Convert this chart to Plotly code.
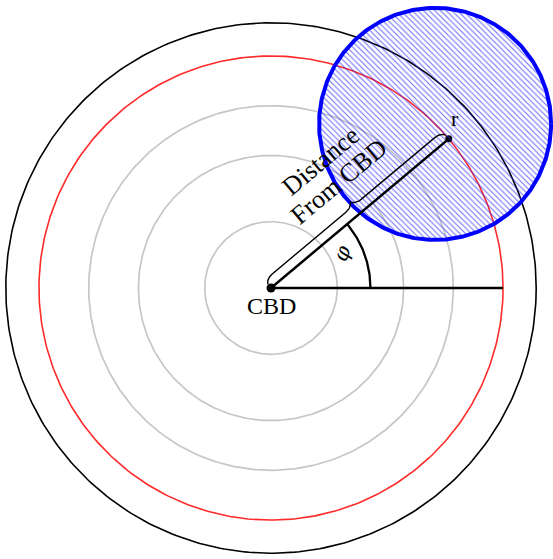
import numpy as np
import plotly.graph_objects as go

# ---- data (diagram units) ----
ring_radii = [2.0, 4.0, 5.5]          # grey reference rings
red_radius = 7.0                      # red ring
outer_radius = 8.0                    # black outer ring
zone_center = (7.0, 45.0)             # polar (radius, degrees) of hatched zone centre
zone_radius = 3.5
point_r = (7.0, 40.0)                 # polar position of point r
arc_radius = 3.0                      # angle marker radius
brace_raise, brace_amp = 0.15, 0.30
label_cbd = "CBD"
label_r = "r"
label_phi = "φ"
label_dist = ["Distance", "From CBD"]

# ---- page mapping ----
W, H = 553, 559
U = 33.15           # px per unit
CX, CY = 271, 288   # centre in px


def pol(r, deg):
    a = np.deg2rad(deg)
    return r * np.cos(a), r * np.sin(a)


def circle(cx, cy, r, n=400):
    t = np.linspace(0, 2 * np.pi, n)
    return cx + r * np.cos(t), cy + r * np.sin(t)


def bez(p0, p1, p2, p3, n=30):
    t = np.linspace(0, 1, n)[:, None]
    p0, p1, p2, p3 = map(np.array, (p0, p1, p2, p3))
    return ((1 - t) ** 3) * p0 + 3 * ((1 - t) ** 2) * t * p1 + 3 * (1 - t) * t * t * p2 + t ** 3 * p3


fig = go.Figure()

# grey rings
for r in ring_radii:
    x, y = circle(0, 0, r)
    fig.add_trace(go.Scatter(x=x, y=y, mode="lines", line=dict(color="#c6c6c6", width=1.7), hoverinfo="skip"))

# red ring
x, y = circle(0, 0, red_radius)
fig.add_trace(go.Scatter(x=x, y=y, mode="lines", line=dict(color="#ff2a2a", width=1.6), hoverinfo="skip"))

# outer ring
x, y = circle(0, 0, outer_radius)
fig.add_trace(go.Scatter(x=x, y=y, mode="lines", line=dict(color="black", width=1.6), hoverinfo="skip"))

# point r dot (under hatch)
px_, py_ = pol(*point_r)
fig.add_trace(go.Scatter(x=[px_], y=[py_], mode="markers",
                         marker=dict(color="black", size=7), hoverinfo="skip"))

# hatched zone
zx, zy = pol(*zone_center)
x, y = circle(zx, zy, zone_radius)
fig.add_trace(go.Scatter(x=x, y=y, mode="lines", fill="toself",
                         fillcolor="rgba(0,0,0,0)",
                         fillpattern=dict(shape="\\", size=4, solidity=0.25,
                                          fgcolor="rgba(40,40,255,0.7)",
                                          bgcolor="rgba(0,0,0,0)", fillmode="replace"),
                         line=dict(color="#0000ff", width=4), hoverinfo="skip"))

# horizontal reference line
fig.add_trace(go.Scatter(x=[0, red_radius], y=[0, 0], mode="lines",
                         line=dict(color="black", width=2.3), hoverinfo="skip"))
# radius line to r
fig.add_trace(go.Scatter(x=[0, px_], y=[0, py_], mode="lines",
                         line=dict(color="black", width=2.5), hoverinfo="skip"))

# angle arc
t = np.linspace(0, np.deg2rad(point_r[1]), 60)
fig.add_trace(go.Scatter(x=arc_radius * np.cos(t), y=arc_radius * np.sin(t), mode="lines",
                         line=dict(color="black", width=2.3), hoverinfo="skip"))

# brace along the radius line
L = point_r[0]
a = brace_amp
pieces = [
    bez((0, 0), (.15 * a, .3 * a), (.5 * a, .5 * a), (a, .5 * a)),
    bez((a, .5 * a), (L / 2 - a, .5 * a), (L / 2 - a, .5 * a), (L / 2 - a, .5 * a), n=2),
    bez((L / 2 - a, .5 * a), (L / 2 - .5 * a, .5 * a), (L / 2 - .15 * a, .7 * a), (L / 2, a)),
    bez((L / 2, a), (L / 2 + .15 * a, .7 * a), (L / 2 + .5 * a, .5 * a), (L / 2 + a, .5 * a)),
    bez((L / 2 + a, .5 * a), (L - a, .5 * a), (L - a, .5 * a), (L - a, .5 * a), n=2),
    bez((L - a, .5 * a), (L - .5 * a, .5 * a), (L - .15 * a, .3 * a), (L, 0)),
]
loc = np.vstack(pieces)
s, tt = loc[:, 0], loc[:, 1] + brace_raise
ang = np.deg2rad(point_r[1])
bx = s * np.cos(ang) - tt * np.sin(ang)
by = s * np.sin(ang) + tt * np.cos(ang)
fig.add_trace(go.Scatter(x=bx, y=by, mode="lines", line=dict(color="black", width=1.4),
                         hoverinfo="skip"))

# CBD dot
fig.add_trace(go.Scatter(x=[0], y=[0], mode="markers", marker=dict(color="black", size=9),
                         hoverinfo="skip"))

serif = "Liberation Serif, Times New Roman, serif"
ann = []
ann.append(dict(x=0, y=-0.55, text=label_cbd, showarrow=False,
                font=dict(family=serif, size=24, color="black")))
ann.append(dict(x=5.55, y=5.12, text=label_r, showarrow=False,
                font=dict(family=serif, size=22, color="black")))
ann.append(dict(x=2.14, y=1.06, text="<i>" + label_phi + "</i>", showarrow=False, textangle=-70,
                font=dict(family="DejaVu Serif, serif", size=21, color="black")))
ann.append(dict(x=1.478, y=3.831, text=label_dist[0], showarrow=False, textangle=-40,
                font=dict(family=serif, size=26, color="black")))
ann.append(dict(x=2.051, y=3.198, text=label_dist[1], showarrow=False, textangle=-40,
                font=dict(family=serif, size=26, color="black")))

fig.update_layout(
    width=W, height=H, margin=dict(l=0, r=0, t=0, b=0),
    paper_bgcolor="white", plot_bgcolor="white", showlegend=False,
    xaxis=dict(range=[-CX / U, (W - CX) / U], visible=False, fixedrange=True),
    yaxis=dict(range=[(CY - H) / U, CY / U], visible=False, fixedrange=True),
    annotations=ann,
)
fig.write_html("out.html", config={"displayModeBar": False},
               post_script="document.body.style.margin='0';document.body.style.overflow='hidden';")
